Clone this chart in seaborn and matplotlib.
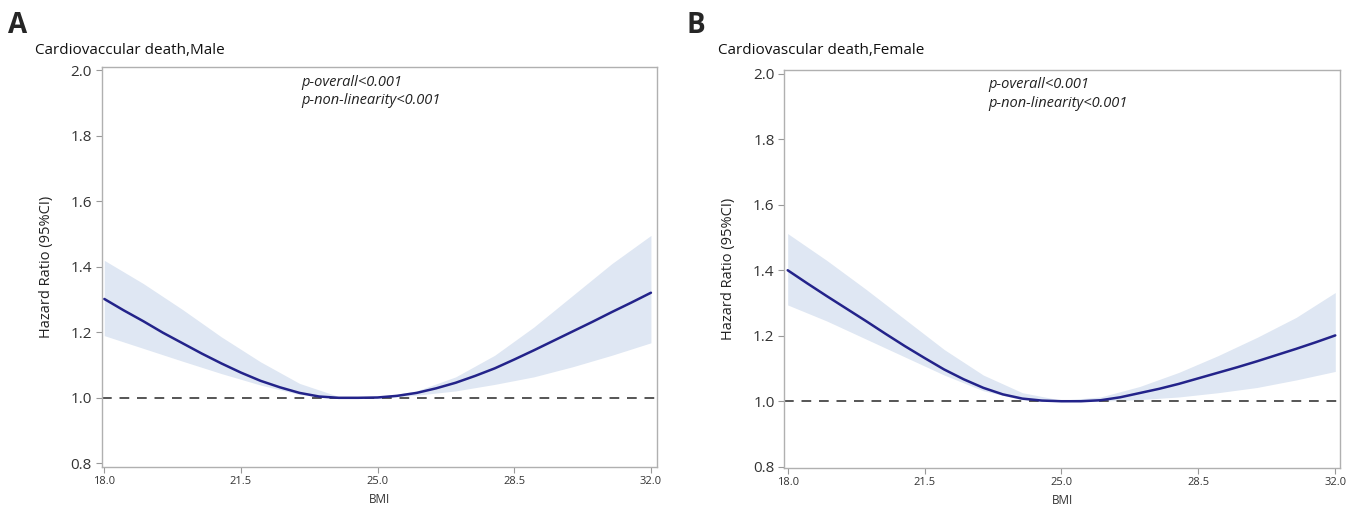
import numpy as np
import pandas as pd
import matplotlib
matplotlib.use("Agg")
import matplotlib.pyplot as plt
import seaborn as sns

# ---------------------------
# data
# ---------------------------
# fitted curve, read every 0.5 BMI unit
bmi_fine = [18, 18.5, 19, 19.5, 20, 20.5, 21, 21.5, 22, 22.5, 23, 23.5, 24, 24.5, 25,
            25.5, 26, 26.5, 27, 27.5, 28, 28.5, 29, 29.5, 30, 30.5, 31, 31.5, 32]
male_hr = [1.302, 1.267, 1.234, 1.199, 1.167, 1.135, 1.105, 1.077, 1.052, 1.032, 1.015, 1.004, 1.000, 1.000, 1.001,
           1.006, 1.015, 1.029, 1.046, 1.067, 1.090, 1.117, 1.145, 1.174, 1.203, 1.232, 1.262, 1.291, 1.321]
female_hr = [1.400, 1.360, 1.321, 1.283, 1.245, 1.206, 1.168, 1.132, 1.097, 1.067, 1.041, 1.021, 1.008, 1.002, 1.000,
             1.000, 1.003, 1.012, 1.025, 1.038, 1.053, 1.070, 1.087, 1.104, 1.122, 1.141, 1.160, 1.180, 1.201]

# 95% CI band, read every 1 BMI unit
bmi_ci = [18, 19, 20, 21, 22, 23, 24, 25, 26, 27, 28, 29, 30, 31, 32]
male_lo = [1.190, 1.151, 1.112, 1.074, 1.039, 1.010, 0.998, 0.998, 1.008, 1.021, 1.041, 1.064, 1.095, 1.130, 1.168]
male_hi = [1.420, 1.349, 1.270, 1.186, 1.110, 1.044, 1.004, 1.002, 1.021, 1.064, 1.130, 1.216, 1.313, 1.410, 1.496]
female_lo = [1.294, 1.245, 1.190, 1.135, 1.080, 1.032, 1.004, 0.998, 1.000, 1.005, 1.013, 1.026, 1.042, 1.065, 1.091]
female_hi = [1.512, 1.430, 1.342, 1.250, 1.158, 1.080, 1.026, 1.003, 1.013, 1.045, 1.088, 1.139, 1.195, 1.256, 1.332]

x_ticks = [18.0, 21.5, 25.0, 28.5, 32.0]
y_ticks = [0.8, 1.0, 1.2, 1.4, 1.6, 1.8, 2.0]

panels = [
    ("A", "Cardiovaccular death,Male", male_hr, male_lo, male_hi),
    ("B", "Cardiovascular death,Female", female_hr, female_lo, female_hi),
]

sns.set_style("white")
plt.rcParams["font.family"] = ["Open Sans", "DejaVu Sans"]

fig = plt.figure(figsize=(13.59, 5.13), dpi=100)
rects = [[0.0748, 0.0903, 0.4088, 0.780], [0.5771, 0.0883, 0.4089, 0.7762]]
xlims = [(17.933, 32.161), (17.913, 32.12)]
ylims = [(0.7896, 2.012), (0.797, 2.013)]
ptext_x = [0.36, 0.3666]
letter_x = [0.006, 0.505]
title_x = [0.026, 0.528]

line_col = "#23238a"
band_col = "#dfe7f3"

for i, (letter, title, hr, lo, hi) in enumerate(panels):
    ax = fig.add_axes(rects[i])
    curve = pd.DataFrame({"BMI": bmi_fine, "HR": hr})
    band = pd.DataFrame({"BMI": bmi_ci, "lo": lo, "hi": hi})

    ax.fill_between(band["BMI"], band["lo"], band["hi"], color=band_col, lw=0)
    ax.axhline(1.0, color="#555555", lw=1.4, ls=(0, (5, 4)))
    sns.lineplot(data=curve, x="BMI", y="HR", ax=ax, color=line_col, lw=1.8)

    ax.set_xlim(*xlims[i])
    ax.set_ylim(*ylims[i])
    ax.set_xticks(x_ticks)
    ax.set_xticklabels([f"{t:.1f}" for t in x_ticks], fontsize=8, color="#333333")
    ax.set_yticks(y_ticks)
    ax.set_yticklabels([f"{t:.1f}" for t in y_ticks], fontsize=11, color="#333333")
    ax.tick_params(axis="both", length=4, width=0.8, color="#999999", direction="out",
                   left=True, bottom=True, pad=3)
    for s in ax.spines.values():
        s.set_color("#b0b0b0")
        s.set_linewidth(1.0)

    ax.set_xlabel("BMI", fontsize=8.5, color="#333333", labelpad=4)
    ax.set_ylabel("Hazard Ratio (95%CI)", fontsize=10.5, color="#222222", labelpad=12)

    ax.text(ptext_x[i], 0.98, "p-overall<0.001\np-non-linearity<0.001", transform=ax.transAxes,
            ha="left", va="top", fontsize=10.5, style="italic", color="#222222", linespacing=1.35)

    fig.text(letter_x[i], 0.935, letter, fontsize=20, fontweight="bold", ha="left", va="baseline")
    fig.text(title_x[i], 0.895, title, fontsize=11, ha="left", va="baseline", color="#111111")

fig.savefig("out.png", dpi=100)
